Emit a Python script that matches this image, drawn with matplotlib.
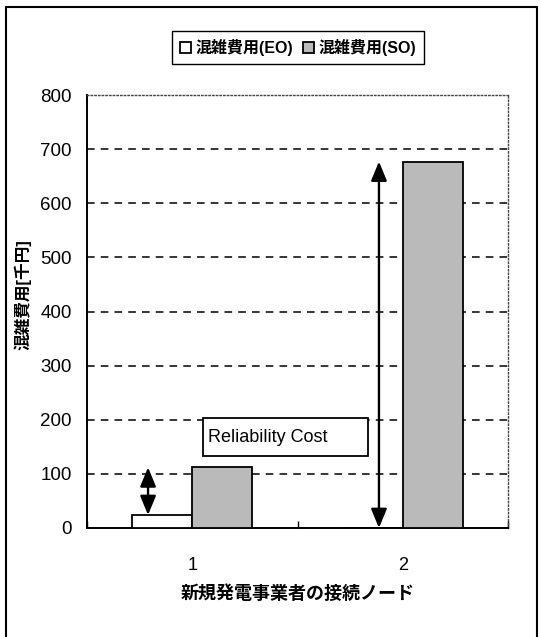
import matplotlib
matplotlib.use("Agg")
import matplotlib.pyplot as plt
from matplotlib.patches import Rectangle, FancyArrowPatch
import numpy as np

plt.rcParams['font.family'] = ['Liberation Sans', 'Noto Sans CJK JP']

categories = ['1', '2']
eo_values = [24, 0]
so_values = [112, 677]
series_labels = ['混雑費用(EO)', '混雑費用(SO)']
y_ticks = [0, 100, 200, 300, 400, 500, 600, 700, 800]
y_label = '混雑費用[千円]'
x_label = '新規発電事業者の接続ノード'
box_text = 'Reliability Cost'

W, H = 541, 637
fig = plt.figure(figsize=(W / 100, H / 100), dpi=100)
ax = fig.add_axes([87 / W, 1 - 528 / H, (508 - 87) / W, (528 - 95) / H])

x = np.arange(1, len(categories) + 1)
bw = 0.285
ax.bar(x - bw / 2, eo_values, width=bw, facecolor='white', edgecolor='black', linewidth=1.3,
       label=series_labels[0], zorder=3)
ax.bar(x + bw / 2, so_values, width=bw, facecolor='#bababa', edgecolor='black', linewidth=1.3,
       label=series_labels[1], zorder=3)

ax.set_xlim(0.5, len(categories) + 0.5)
ax.set_ylim(0, 800)
ax.set_yticks(y_ticks)
ax.set_yticklabels([str(v) for v in y_ticks], fontsize=13.5)
ax.set_xticks(x)
ax.set_xticklabels(categories, fontsize=13)
ax.set_xticks(np.arange(0.5, len(categories) + 1, 1.0), minor=True)
ax.tick_params(axis='x', which='major', length=0, pad=21)
ax.tick_params(axis='x', which='minor', direction='in', length=5, width=1)
ax.tick_params(axis='y', length=0, pad=11)

for v in y_ticks[1:-1]:
    ax.axhline(v, color='black', linestyle=(0, (5, 4)), linewidth=1.1, zorder=1)

ax.spines['left'].set_linewidth(1.4)
ax.spines['bottom'].set_linewidth(1.4)
for s in ['top', 'right']:
    ax.spines[s].set_linestyle(':')
    ax.spines[s].set_linewidth(1.0)
    ax.spines[s].set_color('#444444')

ax.set_ylabel(y_label, fontsize=12, fontweight='bold')
ax.yaxis.set_label_coords(-0.132, 0.538)
ax.set_xlabel(x_label, fontsize=13, fontweight='bold', labelpad=8)

# double-headed arrows between EO and SO values
arrow_x = [0.79, 1.887]
for ax_x, e, s in zip(arrow_x, eo_values, so_values):
    arr = FancyArrowPatch((ax_x, e), (ax_x, s), arrowstyle='<|-|>,head_length=0.58,head_width=0.24',
                          mutation_scale=20, color='black', linewidth=1.7, shrinkA=0, shrinkB=0,
                          zorder=5)
    ax.add_patch(arr)

# Reliability Cost box
ax.add_patch(Rectangle((1.051, 133), 0.784, 70, facecolor='white', edgecolor='black',
                       linewidth=1.3, zorder=4))
ax.text(1.075, 168, box_text, ha='left', va='center', fontsize=13, zorder=6)

# legend
fig.legend(loc='center', bbox_to_anchor=(298 / W, 1 - 47.5 / H), ncol=2,
           prop={'size': 11.5, 'weight': 'bold'},
           frameon=True, fancybox=False, edgecolor='black', handlelength=0.7, handleheight=0.7,
           handletextpad=0.3, columnspacing=0.6, borderpad=0.5, framealpha=1)

# outer frame
fig.add_artist(Rectangle((6 / W, -0.05), (537 - 6) / W, 1.05 - 7 / H, transform=fig.transFigure,
                         facecolor='none', edgecolor='black', linewidth=1.5))

fig.savefig('out.png', dpi=100)
